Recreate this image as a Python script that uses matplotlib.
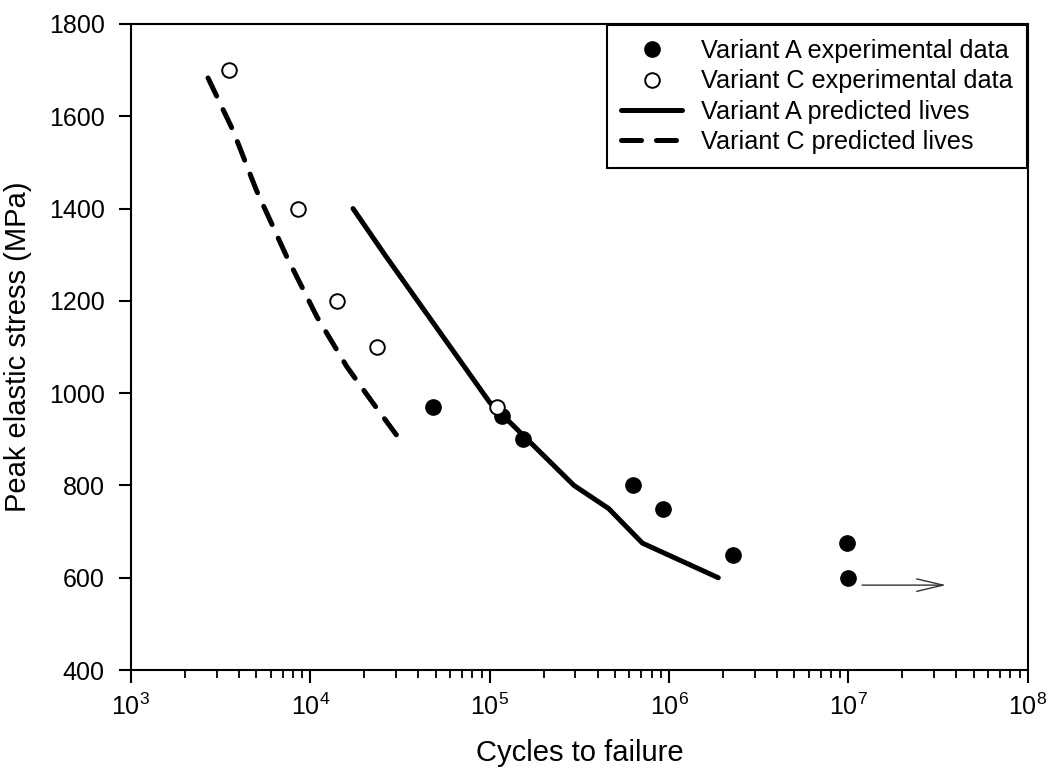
import matplotlib
matplotlib.use("Agg")
import matplotlib.pyplot as plt
from matplotlib.ticker import LogLocator, FixedLocator, NullFormatter, LogFormatterSciNotation

plt.rcParams["font.family"] = ["Liberation Sans", "DejaVu Sans"]
plt.rcParams["mathtext.fontset"] = "custom"
plt.rcParams["mathtext.rm"] = "Liberation Sans"
plt.rcParams["mathtext.it"] = "Liberation Sans:italic"
plt.rcParams["mathtext.bf"] = "Liberation Sans:bold"

# experimental points: cycles to failure vs peak elastic stress (MPa)
a_exp_cycles = [4.8e4, 1.17e5, 1.53e5, 6.3e5, 9.2e5, 2.27e6, 9.8e6, 1.0e7]
a_exp_stress = [970, 950, 900, 800, 750, 650, 675, 600]
c_exp_cycles = [3.5e3, 8.5e3, 1.41e4, 2.35e4, 1.1e5]
c_exp_stress = [1700, 1400, 1200, 1100, 970]

# predicted lives
a_pred_cycles = [1.73e4, 2.6e4, 1.0e5, 2.95e5, 4.6e5, 7.1e5, 1.88e6]
a_pred_stress = [1400, 1300, 980, 800, 750, 675, 600]
c_pred_cycles = [2.69e3, 3.7e3, 5.0e3, 7.4e3, 1.09e4, 1.6e4, 2.23e4, 3.16e4]
c_pred_stress = [1683, 1570, 1440, 1295, 1165, 1057, 979, 899]

# run-out marker on the 600 MPa specimen
runout_start = (1.19e7, 584)
runout_end = (3.5e7, 584)

y_ticks = [400, 600, 800, 1000, 1200, 1400, 1600, 1800]

fig = plt.figure(figsize=(10.51, 7.69), dpi=100)
ax = fig.add_axes([0.1246, 0.1287, 0.8534, 0.8401])

ax.plot(a_pred_cycles, a_pred_stress, color="black", lw=3.6,
        solid_capstyle="round", solid_joinstyle="round", label="Variant A predicted lives", zorder=2)
ax.plot(c_pred_cycles, c_pred_stress, color="black", lw=3.6, dashes=(4, 3),
        dash_capstyle="round", dash_joinstyle="round", label="Variant C predicted lives", zorder=2)
ax.plot(a_exp_cycles, a_exp_stress, "o", color="black", ms=11,
        label="Variant A experimental data", zorder=3)
ax.plot(c_exp_cycles, c_exp_stress, "o", mfc="white", mec="black", mew=1.4, ms=10.5,
        label="Variant C experimental data", zorder=3)

ax.annotate("", xy=runout_end, xytext=runout_start,
            arrowprops=dict(arrowstyle="->,head_length=1.9,head_width=0.45",
                            lw=1.0, color="#333333", shrinkA=0, shrinkB=0,
                            mutation_scale=10))

ax.set_xscale("log")
ax.set_xlim(1e3, 1e8)
ax.set_ylim(400, 1800)
ax.xaxis.set_major_locator(LogLocator(base=10, numticks=10))
ax.xaxis.set_major_formatter(LogFormatterSciNotation())
ax.xaxis.set_minor_locator(LogLocator(base=10, subs=range(2, 10), numticks=20))
ax.xaxis.set_minor_formatter(NullFormatter())
ax.yaxis.set_major_locator(FixedLocator(y_ticks))

ax.tick_params(axis="x", which="major", direction="out", length=9, width=1.5,
               labelsize=18, pad=8)
ax.tick_params(axis="x", which="minor", direction="out", length=6, width=1.3)
ax.tick_params(axis="y", which="major", direction="out", length=9, width=1.5,
               labelsize=18, pad=10)
ax.tick_params(top=False, right=False)
for side in ax.spines.values():
    side.set_linewidth(1.5)

ax.set_xlabel("Cycles to failure", fontsize=21, labelpad=14)
ax.set_ylabel("Peak elastic stress (MPa)", fontsize=21, labelpad=12)

handles, labels = ax.get_legend_handles_labels()
order = [2, 3, 0, 1]
leg = ax.legend([handles[i] for i in order], [labels[i] for i in order],
                loc="upper right", fontsize=18.2, frameon=True, fancybox=False,
                edgecolor="black", framealpha=1, borderaxespad=0.05,
                borderpad=0.55, labelspacing=0.25, handlelength=2.4,
                handletextpad=0.75, numpoints=1)
leg.get_frame().set_linewidth(1.5)

fig.savefig("out.png", dpi=100)
